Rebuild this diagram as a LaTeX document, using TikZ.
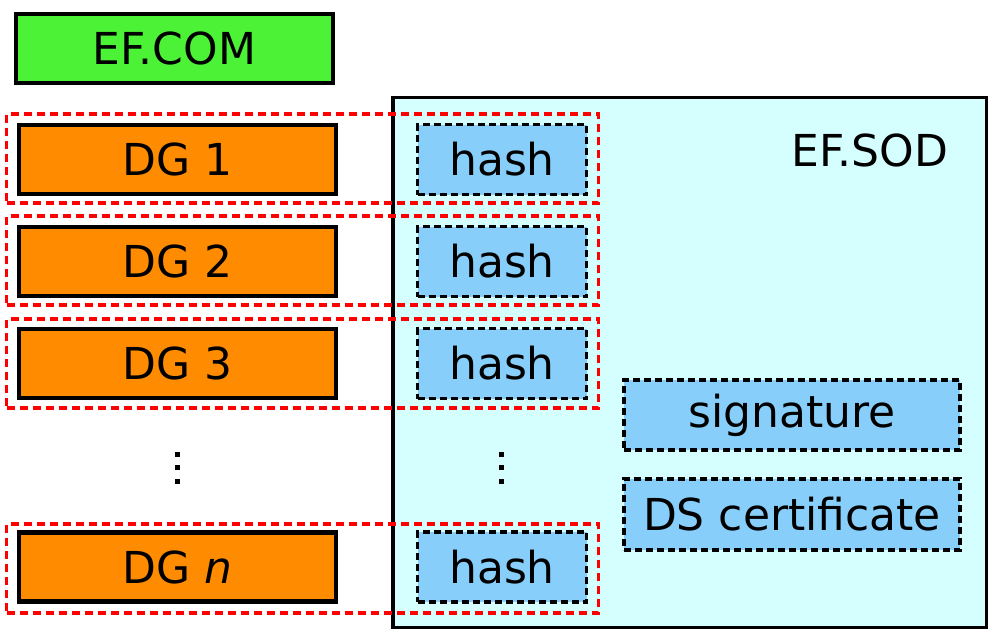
\documentclass[tikz,border=0pt]{standalone}
\usepackage{fontspec}
\setmainfont{DejaVu Sans}
\usetikzlibrary{positioning}
\definecolor{comgreen}{RGB}{76,242,53}
\definecolor{dgorange}{RGB}{255,140,0}
\definecolor{sodcyan}{RGB}{213,255,255}
\definecolor{hashblue}{RGB}{135,206,250}
\definecolor{grpred}{RGB}{255,0,0}
\tikzset{
  lbl/.style={font=\fontsize{44}{50}\selectfont},
  dgbox/.style={lbl, draw=black, line width=4.5pt, fill=dgorange, minimum width=317pt, minimum height=69pt, inner sep=0pt},
  combox/.style={dgbox, fill=comgreen},
  sodbox/.style={draw=black, line width=3.5pt, fill=sodcyan, inner sep=0pt},
  itembox/.style={lbl, draw=black, line width=3.5pt, dash pattern=on 7pt off 4pt, fill=hashblue, minimum height=70pt, inner sep=0pt},
  hashbox/.style={itembox, minimum width=169pt},
  widebox/.style={itembox, minimum width=336pt},
  grpbox/.style={draw=grpred, line width=3.5pt, dash pattern=on 8pt off 5pt, minimum width=592pt, minimum height=89pt, inner sep=0pt},
  dotsq/.style={fill=black, minimum size=5pt, inner sep=0pt},
}
\begin{document}
\begin{tikzpicture}[x=1pt,y=-1pt]
\useasboundingbox (0,0) rectangle (997,635);
% EF.SOD container
\node[sodbox, minimum width=593.5pt, minimum height=530pt] (sod) at (689.75,362.5) {};
\node[lbl, anchor=center] (sodlbl) at (870,150) {EF.SOD};
% EF.COM
\node[combox] (com) at (174.5,48.5) {EF.COM};
% DG boxes
\node[dgbox] (dg1) at (177.5,159.5) {DG 1};
\node[dgbox] (dg2) at (177.5,261.5) {DG 2};
\node[dgbox] (dg3) at (177.5,363.5) {DG 3};
\node[dgbox] (dgn) at (177.5,567) {DG \textit{n}};
% hash boxes
\node[hashbox] (h1) at (502,159.5) {hash};
\node[hashbox] (h2) at (502,261.5) {hash};
\node[hashbox] (h3) at (502,363.5) {hash};
\node[hashbox] (hn) at (502,567) {hash};
% signature and certificate
\node[widebox] (sig) at (792,415) {signature};
\node[widebox, minimum height=71pt] (cert) at (792,514.5) {DS certificate};
% group boxes
\node[grpbox] (g1) at (302.5,158.5) {};
\node[grpbox] (g2) at (302.5,260.5) {};
\node[grpbox] (g3) at (302.5,363.5) {};
\node[grpbox] (gn) at (302.5,568.5) {};
% vertical dots
\foreach \xx/\nm in {177/l,501/r}{
  \node[dotsq] (d\nm1) at (\xx,454) {};
  \node[dotsq] (d\nm2) at (\xx,467.5) {};
  \node[dotsq] (d\nm3) at (\xx,481) {};
}
\end{tikzpicture}
\end{document}
